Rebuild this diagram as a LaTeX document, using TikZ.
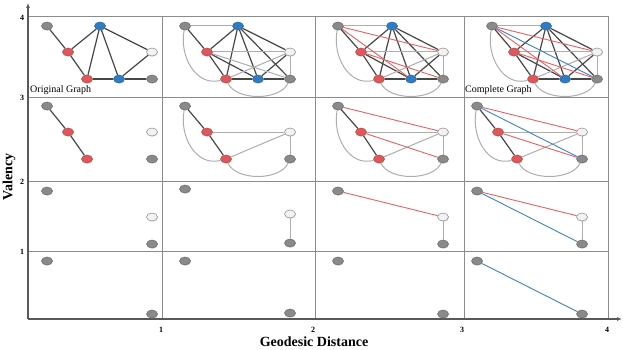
\documentclass[tikz,border=0pt]{standalone}
\usepackage{fontspec}
\setmainfont{Liberation Serif}
\usepackage{xcolor}
\usepackage{tikz}
\usetikzlibrary{arrows.meta, positioning, shapes.geometric, shadows}

\definecolor{vgray}{HTML}{8A8A8A}
\definecolor{vred}{HTML}{E0575B}
\definecolor{vblue}{HTML}{2F7CC4}
\definecolor{vwhite}{HTML}{F2F2F2}
\definecolor{ered}{HTML}{E8605F}
\definecolor{eblue}{HTML}{3B82C8}

\begin{document}
\begin{tikzpicture}[
    x=1pt, y=-1pt,
    vtx/.style={ellipse, minimum width=11pt, minimum height=8pt, inner sep=0pt, line width=0.5pt,
        drop shadow={shadow xshift=0.5pt, shadow yshift=-0.8pt, opacity=0.25}},
    gnode/.style={vtx, fill=vgray, draw=vgray!75!black},
    rnode/.style={vtx, fill=vred, draw=vred!80!black},
    bnode/.style={vtx, fill=vblue, draw=vblue!80!black},
    wnode/.style={vtx, fill=vwhite, draw=vgray},
    dark/.style={draw=black!72, line width=1.2pt},
    light/.style={draw=black!32, line width=1.0pt},
    redge/.style={draw=ered, line width=0.9pt},
    bedge/.style={draw=eblue, line width=0.9pt},
    gridline/.style={draw=black!45, line width=0.6pt},
    axis/.style={draw=black!65, line width=1.4pt, -{Latex[length=5pt,width=4pt]}},
    ticklbl/.style={font=\bfseries\fontsize{8}{9}\selectfont},
    axislbl/.style={font=\bfseries\fontsize{14}{16}\selectfont},
    caption/.style={font=\fontsize{10}{12}\selectfont, anchor=west, inner sep=0pt}
]
\useasboundingbox (0,0) rectangle (623,350);

% Grid
\foreach \y in {16,97,181,251}
    \draw[gridline] (28,\y) -- (608,\y);
\foreach \x in {162,315,464,608}
    \draw[gridline] (\x,16) -- (\x,319);

% Axes
\coordinate (origin) at (28,319);
\coordinate (ytip) at (28,3);
\coordinate (xtip) at (622,319);
\draw[axis] (origin) -- (ytip);
\draw[axis] (origin) -- (xtip);

% Tick labels
\node[ticklbl] (y4) at (22,18) {4};
\node[ticklbl] (y3) at (22,98) {3};
\node[ticklbl] (y2) at (22,182) {2};
\node[ticklbl] (y1) at (22,252) {1};
\node[ticklbl] (x1) at (161,330) {1};
\node[ticklbl] (x2) at (313,330) {2};
\node[ticklbl] (x3) at (462,330) {3};
\node[ticklbl] (x4) at (607,330) {4};

% Axis labels
\node[axislbl, rotate=90] (ylab) at (9,177) {Valency};
\node[axislbl] (xlab) at (314,342) {Geodesic Distance};

% Captions
\node[caption] (orig) at (30,90.5) {Original Graph};
\node[caption] (compl) at (465,90.5) {Complete Graph};

% Row 4 (top)
\node[gnode] (c11-g1) at (47,26) {};
\node[rnode] (c11-r1) at (68,52) {};
\node[bnode] (c11-b1) at (100,26) {};
\node[wnode] (c11-w) at (152,52) {};
\node[rnode] (c11-r2) at (87,79) {};
\node[bnode] (c11-b2) at (119,79) {};
\node[gnode] (c11-g2) at (152,79) {};

\node[gnode] (c12-g1) at (185,26) {};
\node[rnode] (c12-r1) at (207,52) {};
\node[bnode] (c12-b1) at (238,26) {};
\node[wnode] (c12-w) at (290,52) {};
\node[rnode] (c12-r2) at (226,79) {};
\node[bnode] (c12-b2) at (258,79) {};
\node[gnode] (c12-g2) at (290,79) {};

\node[gnode] (c13-g1) at (338,26) {};
\node[rnode] (c13-r1) at (361,52) {};
\node[bnode] (c13-b1) at (392,26) {};
\node[wnode] (c13-w) at (443,52) {};
\node[rnode] (c13-r2) at (379,79) {};
\node[bnode] (c13-b2) at (411,79) {};
\node[gnode] (c13-g2) at (443,79) {};

\node[gnode] (c14-g1) at (492,26) {};
\node[rnode] (c14-r1) at (514,52) {};
\node[bnode] (c14-b1) at (546,26) {};
\node[wnode] (c14-w) at (597,52) {};
\node[rnode] (c14-r2) at (533,79) {};
\node[bnode] (c14-b2) at (565,79) {};
\node[gnode] (c14-g2) at (597,79) {};

\foreach \c in {11,12,13,14} {
    \draw[dark] (c\c-g1) -- (c\c-r1);
    \draw[dark] (c\c-r1) -- (c\c-b1);
    \draw[dark] (c\c-r1) -- (c\c-r2);
    \draw[dark] (c\c-b1) -- (c\c-r2);
    \draw[dark] (c\c-b1) -- (c\c-b2);
    \draw[dark] (c\c-b1) -- (c\c-w);
    \draw[dark] (c\c-r2) -- (c\c-b2);
    \draw[dark] (c\c-b2) -- (c\c-g2);
    \draw[dark] (c\c-w) -- (c\c-b2);
}
\foreach \c in {12,13,14} {
    \draw[dark] (c\c-b1) -- (c\c-g2);
    \draw[dark] (c\c-r1) -- (c\c-b2);
    \draw[light] (c\c-g1) -- (c\c-b1);
    \draw[light] (c\c-r1) -- (c\c-w);
    \draw[light] (c\c-w) -- (c\c-g2);
    \draw[light] (c\c-r2) -- (c\c-w);
    \draw[light] (c\c-g1) .. controls +(-6,30) and +(-30,8) .. (c\c-r2);
    \draw[light] (c\c-r2) .. controls +(10,22) and +(-10,22) .. (c\c-g2);
}
\draw[light] (c12-r1) -- (c12-g2);
\foreach \c in {13,14} {
    \draw[redge] (c\c-g1) -- (c\c-w);
    \draw[redge] (c\c-g1) -- (c\c-b2);
    \draw[redge] (c\c-r1) -- (c\c-g2);
}
\draw[bedge] (c14-g1) -- (c14-g2);

% Row 3
\node[gnode] (c21-g1) at (47,106) {};
\node[rnode] (c21-r1) at (68,132) {};
\node[wnode] (c21-w) at (152,132) {};
\node[rnode] (c21-r2) at (87,159) {};
\node[gnode] (c21-g2) at (152,159) {};

\node[gnode] (c22-g1) at (185,106) {};
\node[rnode] (c22-r1) at (207,132) {};
\node[wnode] (c22-w) at (290,132) {};
\node[rnode] (c22-r2) at (226,159) {};
\node[gnode] (c22-g2) at (290,159) {};

\node[gnode] (c23-g1) at (338,106) {};
\node[rnode] (c23-r1) at (361,132) {};
\node[wnode] (c23-w) at (443,132) {};
\node[rnode] (c23-r2) at (379,159) {};
\node[gnode] (c23-g2) at (443,159) {};

\node[gnode] (c24-g1) at (477,106) {};
\node[rnode] (c24-r1) at (498,132) {};
\node[wnode] (c24-w) at (582,132) {};
\node[rnode] (c24-r2) at (517,159) {};
\node[gnode] (c24-g2) at (582,159) {};

\foreach \c in {21,22,23,24} {
    \draw[dark] (c\c-g1) -- (c\c-r1);
    \draw[dark] (c\c-r1) -- (c\c-r2);
}
\foreach \c in {22,23,24} {
    \draw[light] (c\c-r1) -- (c\c-w);
    \draw[light] (c\c-w) -- (c\c-g2);
    \draw[light] (c\c-r2) -- (c\c-w);
    \draw[light] (c\c-g1) .. controls +(-6,30) and +(-30,8) .. (c\c-r2);
    \draw[light] (c\c-r2) .. controls +(10,22) and +(-10,22) .. (c\c-g2);
}
\foreach \c in {23,24} {
    \draw[redge] (c\c-g1) -- (c\c-w);
    \draw[redge] (c\c-r1) -- (c\c-g2);
}
\draw[bedge] (c24-g1) -- (c24-g2);

% Row 2
\node[gnode] (c31-g1) at (47,191) {};
\node[wnode] (c31-w) at (152,217) {};
\node[gnode] (c31-g2) at (152,244) {};

\node[gnode] (c32-g1) at (185,189) {};
\node[wnode] (c32-w) at (290,214) {};
\node[gnode] (c32-g2) at (290,243) {};

\node[gnode] (c33-g1) at (338,191) {};
\node[wnode] (c33-w) at (443,217) {};
\node[gnode] (c33-g2) at (443,244) {};

\node[gnode] (c34-g1) at (477,191) {};
\node[wnode] (c34-w) at (582,217) {};
\node[gnode] (c34-g2) at (582,244) {};

\foreach \c in {32,33,34}
    \draw[light] (c\c-w) -- (c\c-g2);
\foreach \c in {33,34}
    \draw[redge] (c\c-g1) -- (c\c-w);
\draw[bedge] (c34-g1) -- (c34-g2);

% Row 1 (bottom)
\node[gnode] (c41-g1) at (47,261) {};
\node[gnode] (c41-g2) at (152,314) {};
\node[gnode] (c42-g1) at (185,261) {};
\node[gnode] (c42-g2) at (290,313) {};
\node[gnode] (c43-g1) at (338,261) {};
\node[gnode] (c43-g2) at (443,314) {};
\node[gnode] (c44-g1) at (477,261) {};
\node[gnode] (c44-g2) at (582,314) {};

\draw[bedge] (c44-g1) -- (c44-g2);

\end{tikzpicture}
\end{document}
